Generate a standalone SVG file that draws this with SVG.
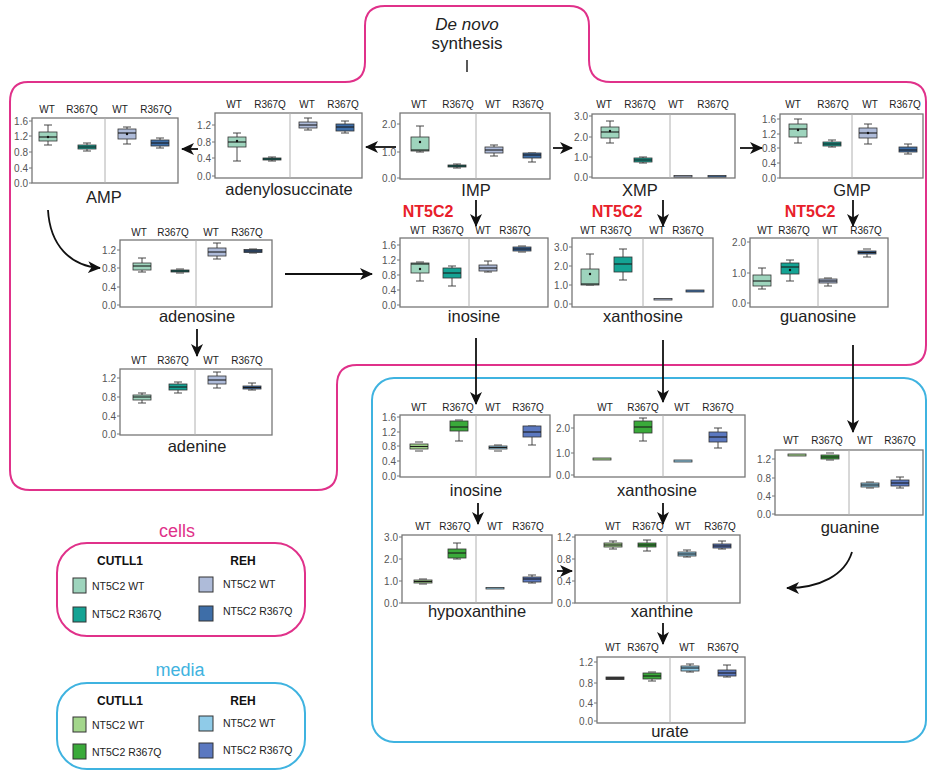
<svg xmlns="http://www.w3.org/2000/svg" width="929" height="777" viewBox="0 0 929 777">
<style>
text{font-family:"Liberation Sans",Arial,sans-serif}
.ax{fill:#fff;stroke:#777;stroke-width:1.3}
.sep{stroke:#b0b0b0;stroke-width:1}
.tm{stroke:#777;stroke-width:1;fill:none}
.tk{font-size:10px;fill:#555;text-anchor:end}
.gl{font-size:10px;fill:#222;text-anchor:middle}
.tt{font-size:16.5px;fill:#222;text-anchor:middle}
.w{stroke:#333;stroke-width:0.9;fill:none}
.bx rect{stroke:#333;stroke-width:0.8}
.md{stroke:#1a1a1a;stroke-width:1.1;fill:none}
.mn{fill:#111}
.cW{fill:#9ed4bd}.cR{fill:#14a394}.rW{fill:#aebbd9}.rR{fill:#3e6ea8}
.mcW{fill:#a3d68c}.mcR{fill:#3aaa3a}.mrW{fill:#8fcbe8}.mrR{fill:#5b78c0}
.ar{stroke:#111;stroke-width:1.8;fill:none;marker-end:url(#ah)}
.nt{font-size:16px;font-weight:bold;fill:#e8202a;text-anchor:middle}
.lg{font-size:10.5px;fill:#222}
.lh{font-size:12px;font-weight:bold;fill:#111;text-anchor:middle}
.sw{stroke:#333;stroke-width:1}
</style>
<defs>
<marker id="ah" markerUnits="userSpaceOnUse" markerWidth="14" markerHeight="12" refX="12" refY="6" orient="auto">
<path d="M0,0 L13,6 L0,12 L3.5,6 z" fill="#111"/>
</marker>
</defs>

<!-- compartments -->
<g id="cells-compartment">
<path d="M28,82 H345 Q365,82 365,62 V26 Q365,6 385,6 H569 Q589,6 589,26 V60 Q589,82 611,82 H906 Q926,82 926,102 V345 Q926,365 906,365 H357 Q337,365 337,385 V470 Q337,490 317,490 H30 Q10,490 10,470 V102 Q10,82 28,82 Z" fill="none" stroke="#e0318a" stroke-width="2"/>
</g>
<g id="media-compartment">
<rect x="372" y="378" width="554" height="364" rx="22" fill="none" stroke="#3fb3e0" stroke-width="2"/>
</g>

<g id="denovo">
<text x="467" y="30" font-size="17" font-style="italic" fill="#222" text-anchor="middle">De novo</text>
<text x="467" y="49" font-size="17" fill="#222" text-anchor="middle">synthesis</text>
<line x1="467" y1="60" x2="467" y2="72" stroke="#222" stroke-width="1.5"/>
</g>

<!-- AMP -->
<g id="amp">
<rect class="ax" x="32" y="118" width="146" height="65"/>
<line class="sep" x1="105" y1="118" x2="105" y2="183"/>
<path class="tm" d="M29,121h3M29,136h3M29,152h3M29,168h3M29,183h3"/>
<text class="tk" x="28" y="124.5">1.6</text><text class="tk" x="28" y="139.5">1.2</text><text class="tk" x="28" y="155.5">0.8</text><text class="tk" x="28" y="171.5">0.4</text><text class="tk" x="28" y="186.5">0.0</text>
<text class="gl" x="47" y="113">WT</text><text class="gl" x="82" y="113">R367Q</text><text class="gl" x="120" y="113">WT</text><text class="gl" x="156" y="113">R367Q</text>
<g class="bx">
<path class="w" d="M44,125h8M48,125V132M48,141V145M44,145h8"/><rect class="cW" x="39" y="132" width="18" height="9"/><path class="md" d="M39,137h18"/><circle class="mn" cx="48" cy="137" r="1.2"/>
<path class="w" d="M83,143h8M87,143V145M87,149V151M83,151h8"/><rect class="cR" x="78" y="145" width="18" height="4"/><path class="md" d="M78,147h18"/>
<path class="w" d="M123,127h8M127,127V129M127,139V144M123,144h8"/><rect class="rW" x="118" y="129" width="18" height="10"/><path class="md" d="M118,133h18"/><circle class="mn" cx="127" cy="134" r="1.2"/>
<path class="w" d="M156,138h8M160,138V140M160,146V148M156,148h8"/><rect class="rR" x="151" y="140" width="18" height="6"/><path class="md" d="M151,143h18"/>
</g>
<text class="tt" x="104" y="203">AMP</text>
</g>

<!-- adenylosuccinate -->
<g id="adenylosuccinate">
<rect class="ax" x="215" y="113" width="147" height="65"/>
<line class="sep" x1="290" y1="113" x2="290" y2="178"/>
<path class="tm" d="M212,125h3M212,142h3M212,158h3M212,176h3"/>
<text class="tk" x="211" y="128.5">1.2</text><text class="tk" x="211" y="145.5">0.8</text><text class="tk" x="211" y="161.5">0.4</text><text class="tk" x="211" y="179.5">0.0</text>
<text class="gl" x="234" y="108">WT</text><text class="gl" x="270" y="108">R367Q</text><text class="gl" x="307" y="108">WT</text><text class="gl" x="343" y="108">R367Q</text>
<g class="bx">
<path class="w" d="M233,133h8M237,133V137M237,147V161M233,161h8"/><rect class="cW" x="228" y="137" width="18" height="10"/><path class="md" d="M228,142h18"/><circle class="mn" cx="237" cy="141" r="1.2"/>
<path class="w" d="M268,157h8M272,157V158M272,160V161M268,161h8"/><rect class="cR" x="263" y="158" width="18" height="2"/><path class="md" d="M263,159h18"/>
<path class="w" d="M304,118h8M308,118V122M308,128V130M304,130h8"/><rect class="rW" x="299" y="122" width="18" height="6"/><path class="md" d="M299,125h18"/>
<path class="w" d="M341,121h8M345,121V124M345,131V133M341,133h8"/><rect class="rR" x="336" y="124" width="18" height="7"/><path class="md" d="M336,127h18"/>
</g>
<text class="tt" x="289" y="195" font-size="18">adenylosuccinate</text>
</g>

<!-- IMP -->
<g id="imp">
<rect class="ax" x="400" y="113" width="150" height="66"/>
<line class="sep" x1="476" y1="113" x2="476" y2="179"/>
<path class="tm" d="M397,124h3M397,152h3M397,178h3"/>
<text class="tk" x="396" y="127.5">2.0</text><text class="tk" x="396" y="155.5">1.0</text><text class="tk" x="396" y="181.5">0.0</text>
<text class="gl" x="419" y="108">WT</text><text class="gl" x="458" y="108">R367Q</text><text class="gl" x="493" y="108">WT</text><text class="gl" x="528" y="108">R367Q</text>
<g class="bx">
<path class="w" d="M416,126h8M420,126V137M420,151V152M416,152h8"/><rect class="cW" x="411" y="137" width="18" height="14"/><path class="md" d="M411,150h18"/><circle class="mn" cx="420" cy="142" r="1.2"/>
<path class="w" d="M453,164h8M457,164V165M457,167V168M453,168h8"/><rect class="cR" x="448" y="165" width="18" height="2"/><path class="md" d="M448,166h18"/>
<path class="w" d="M490,145h8M494,145V147M494,153V156M490,156h8"/><rect class="rW" x="485" y="147" width="18" height="6"/><path class="md" d="M485,150h18"/>
<path class="w" d="M528,153h8M532,158V162M528,162h8"/><rect class="rR" x="523" y="153" width="18" height="5"/><path class="md" d="M523,155h18"/>
</g>
<text class="tt" x="476" y="196" font-size="17">IMP</text>
</g>

<!-- XMP -->
<g id="xmp">
<rect class="ax" x="592" y="114" width="143" height="64"/>
<line class="sep" x1="670" y1="114" x2="670" y2="178"/>
<path class="tm" d="M589,116h3M589,137h3M589,157h3M589,177h3"/>
<text class="tk" x="588" y="119.5">3.0</text><text class="tk" x="588" y="140.5">2.0</text><text class="tk" x="588" y="160.5">1.0</text><text class="tk" x="588" y="180.5">0.0</text>
<text class="gl" x="604" y="108">WT</text><text class="gl" x="640" y="108">R367Q</text><text class="gl" x="676" y="108">WT</text><text class="gl" x="713" y="108">R367Q</text>
<g class="bx">
<path class="w" d="M606,121h8M610,121V127M610,138V143M606,143h8"/><rect class="cW" x="601" y="127" width="18" height="11"/><path class="md" d="M601,132h18"/><circle class="mn" cx="610" cy="131" r="1.2"/>
<path class="w" d="M639,157h8M643,157V158M643,162V163M639,163h8"/><rect class="cR" x="634" y="158" width="18" height="4"/><path class="md" d="M634,160h18"/>
<rect class="rW" x="674" y="175.5" width="18" height="1.5"/>
<rect class="rR" x="708" y="175.5" width="18" height="1.5"/>
</g>
<text class="tt" x="640" y="196" font-size="17">XMP</text>
</g>

<!-- GMP -->
<g id="gmp">
<rect class="ax" x="780" y="114" width="143" height="64"/>
<line class="sep" x1="852" y1="114" x2="852" y2="178"/>
<path class="tm" d="M777,119h3M777,134h3M777,148h3M777,163h3M777,178h3"/>
<text class="tk" x="776" y="122.5">1.6</text><text class="tk" x="776" y="137.5">1.2</text><text class="tk" x="776" y="151.5">0.8</text><text class="tk" x="776" y="166.5">0.4</text><text class="tk" x="776" y="181.5">0.0</text>
<text class="gl" x="793" y="108">WT</text><text class="gl" x="833" y="108">R367Q</text><text class="gl" x="870" y="108">WT</text><text class="gl" x="905" y="108">R367Q</text>
<g class="bx">
<path class="w" d="M794,119h8M798,119V124M798,137V143M794,143h8"/><rect class="cW" x="789" y="124" width="18" height="13"/><path class="md" d="M789,129h18"/><circle class="mn" cx="798" cy="130" r="1.2"/>
<path class="w" d="M828,140h8M832,140V142M832,146V147M828,147h8"/><rect class="cR" x="823" y="142" width="18" height="4"/><path class="md" d="M823,144h18"/>
<path class="w" d="M864,124h8M868,124V128M868,138V144M864,144h8"/><rect class="rW" x="859" y="128" width="18" height="10"/><path class="md" d="M859,133h18"/><circle class="mn" cx="868" cy="133" r="1.2"/>
<path class="w" d="M904,144h8M908,144V147M908,152V154M904,154h8"/><rect class="rR" x="899" y="147" width="18" height="5"/><path class="md" d="M899,150h18"/>
</g>
<text class="tt" x="852" y="196" font-size="17">GMP</text>
</g>

<!-- adenosine -->
<g id="adenosine">
<rect class="ax" x="120" y="240" width="152" height="67"/>
<line class="sep" x1="196" y1="240" x2="196" y2="307"/>
<path class="tm" d="M117,250h3M117,268h3M117,287h3M117,305h3"/>
<text class="tk" x="116" y="253.5">1.2</text><text class="tk" x="116" y="271.5">0.8</text><text class="tk" x="116" y="290.5">0.4</text><text class="tk" x="116" y="308.5">0.0</text>
<text class="gl" x="139" y="236">WT</text><text class="gl" x="173" y="236">R367Q</text><text class="gl" x="211" y="236">WT</text><text class="gl" x="247" y="236">R367Q</text>
<g class="bx">
<path class="w" d="M138,258h8M142,258V263M142,270V272M138,272h8"/><rect class="cW" x="133" y="263" width="18" height="7"/><path class="md" d="M133,266h18"/>
<path class="w" d="M176,269h8M176,273h8"/><rect class="cR" x="171" y="270" width="18" height="2"/><path class="md" d="M171,271h18"/>
<path class="w" d="M213,243h8M217,243V248M217,256V259M213,259h8"/><rect class="rW" x="208" y="248" width="18" height="8"/><path class="md" d="M208,252h18"/>
<path class="w" d="M249,249h8M249,253h8"/><rect class="rR" x="244" y="249.5" width="18" height="3"/><path class="md" d="M244,251h18"/>
</g>
<text class="tt" x="197" y="322" font-size="17">adenosine</text>
</g>

<!-- adenine -->
<g id="adenine">
<rect class="ax" x="120" y="369" width="152" height="66"/>
<line class="sep" x1="195" y1="369" x2="195" y2="435"/>
<path class="tm" d="M117,378h3M117,397h3M117,416h3M117,434h3"/>
<text class="tk" x="116" y="381.5">1.2</text><text class="tk" x="116" y="400.5">0.8</text><text class="tk" x="116" y="419.5">0.4</text><text class="tk" x="116" y="437.5">0.0</text>
<text class="gl" x="139" y="364">WT</text><text class="gl" x="173" y="364">R367Q</text><text class="gl" x="211" y="364">WT</text><text class="gl" x="247" y="364">R367Q</text>
<g class="bx">
<path class="w" d="M138,393h8M142,393V395M142,400V403M138,403h8"/><rect class="cW" x="133" y="395" width="18" height="5"/><path class="md" d="M133,397h18"/>
<path class="w" d="M174,382h8M178,382V384M178,390V393M174,393h8"/><rect class="cR" x="169" y="384" width="18" height="6"/><path class="md" d="M169,387h18"/>
<path class="w" d="M213,372h8M217,372V376M217,384V388M213,388h8"/><rect class="rW" x="208" y="376" width="18" height="8"/><path class="md" d="M208,380h18"/>
<path class="w" d="M248,383h8M252,383V386M252,389V390M248,390h8"/><rect class="rR" x="243" y="386" width="18" height="3"/><path class="md" d="M243,387.5h18"/>
</g>
<text class="tt" x="197" y="452" font-size="17">adenine</text>
</g>

<!-- inosine (cells) -->
<g id="inosine-cells">
<rect class="ax" x="400" y="238" width="148" height="69"/>
<line class="sep" x1="469" y1="238" x2="469" y2="307"/>
<path class="tm" d="M397,245h3M397,260h3M397,275h3M397,290h3M397,305h3"/>
<text class="tk" x="396" y="248.5">1.6</text><text class="tk" x="396" y="263.5">1.2</text><text class="tk" x="396" y="278.5">0.8</text><text class="tk" x="396" y="293.5">0.4</text><text class="tk" x="396" y="308.5">0.0</text>
<text class="gl" x="418" y="234">WT</text><text class="gl" x="448" y="234">R367Q</text><text class="gl" x="483" y="234">WT</text><text class="gl" x="515" y="234">R367Q</text>
<g class="bx">
<path class="w" d="M416,262h8M420,273V281M416,281h8"/><rect class="cW" x="411" y="263" width="18" height="10"/><path class="md" d="M411,264h18"/><circle class="mn" cx="420" cy="269" r="1.2"/>
<path class="w" d="M448,266h8M452,266V268M452,278V286M448,286h8"/><rect class="cR" x="443" y="268" width="18" height="10"/><path class="md" d="M443,273h18"/>
<path class="w" d="M484,261h8M488,261V265M488,271V272M484,272h8"/><rect class="rW" x="479" y="265" width="18" height="6"/><path class="md" d="M479,268h18"/>
<path class="w" d="M518,246h8M518,252h8"/><rect class="rR" x="513" y="247" width="18" height="4"/><path class="md" d="M513,249h18"/>
</g>
<text class="tt" x="474" y="322">inosine</text>
</g>

<!-- xanthosine (cells) -->
<g id="xanthosine-cells">
<rect class="ax" x="572" y="238" width="141" height="69"/>
<line class="sep" x1="643" y1="238" x2="643" y2="307"/>
<path class="tm" d="M569,247h3M569,266h3M569,285h3M569,304h3"/>
<text class="tk" x="568" y="250.5">3.0</text><text class="tk" x="568" y="269.5">2.0</text><text class="tk" x="568" y="288.5">1.0</text><text class="tk" x="568" y="307.5">0.0</text>
<text class="gl" x="588" y="234">WT</text><text class="gl" x="616" y="234">R367Q</text><text class="gl" x="657" y="234">WT</text><text class="gl" x="688" y="234">R367Q</text>
<g class="bx">
<path class="w" d="M586,254h8M590,254V269M586,285h8"/><rect class="cW" x="581" y="269" width="18" height="16"/><path class="md" d="M581,284h18"/><circle class="mn" cx="590" cy="274" r="1.2"/>
<path class="w" d="M619,249h8M623,249V257M623,272V280M619,280h8"/><rect class="cR" x="614" y="257" width="18" height="15"/><path class="md" d="M614,264h18"/>
<rect class="rW" x="654" y="298.5" width="18" height="1.5"/>
<rect class="rR" x="686" y="290" width="18" height="2"/>
</g>
<text class="tt" x="643" y="322">xanthosine</text>
</g>

<!-- guanosine (cells) -->
<g id="guanosine">
<rect class="ax" x="750" y="238" width="138" height="69"/>
<line class="sep" x1="818" y1="238" x2="818" y2="307"/>
<path class="tm" d="M747,242h3M747,273h3M747,303h3"/>
<text class="tk" x="746" y="245.5">2.0</text><text class="tk" x="746" y="276.5">1.0</text><text class="tk" x="746" y="306.5">0.0</text>
<text class="gl" x="765" y="234">WT</text><text class="gl" x="794" y="234">R367Q</text><text class="gl" x="830" y="234">WT</text><text class="gl" x="866" y="234">R367Q</text>
<g class="bx">
<path class="w" d="M758,268h8M762,268V275M762,286V289M758,289h8"/><rect class="cW" x="753" y="275" width="18" height="11"/><path class="md" d="M753,281h18"/>
<path class="w" d="M786,260h8M790,260V263M790,274V281M786,281h8"/><rect class="cR" x="781" y="263" width="18" height="11"/><path class="md" d="M781,267h18"/><circle class="mn" cx="790" cy="270" r="1.2"/>
<path class="w" d="M824,278h8M828,283V286M824,286h8"/><rect class="rW" x="819" y="279" width="18" height="4"/><path class="md" d="M819,281h18"/>
<path class="w" d="M863,249h8M867,254V257M863,257h8"/><rect class="rR" x="858" y="251" width="18" height="3"/><path class="md" d="M858,252.5h18"/>
</g>
<text class="tt" x="818" y="322" font-size="18">guanosine</text>
</g>

<!-- inosine (media) -->
<g id="inosine-media">
<rect class="ax" x="400" y="415" width="150" height="62"/>
<line class="sep" x1="476" y1="415" x2="476" y2="477"/>
<path class="tm" d="M397,417h3M397,432h3M397,446h3M397,461h3M397,476h3"/>
<text class="tk" x="396" y="420.5">1.6</text><text class="tk" x="396" y="435.5">1.2</text><text class="tk" x="396" y="449.5">0.8</text><text class="tk" x="396" y="464.5">0.4</text><text class="tk" x="396" y="479.5">0.0</text>
<text class="gl" x="419" y="411">WT</text><text class="gl" x="458" y="411">R367Q</text><text class="gl" x="493" y="411">WT</text><text class="gl" x="528" y="411">R367Q</text>
<g class="bx">
<path class="w" d="M415,442h8M415,451h8"/><rect class="mcW" x="410" y="444" width="18" height="5"/><path class="md" d="M410,446.5h18"/>
<path class="w" d="M455,420h8M459,431V441M455,441h8"/><rect class="mcR" x="450" y="421" width="18" height="10"/><path class="md" d="M450,427h18"/>
<path class="w" d="M494,445h8M494,451h8"/><rect class="mrW" x="489" y="446" width="18" height="3"/><path class="md" d="M489,447.5h18"/>
<path class="w" d="M528,426h8M532,437V445M528,445h8"/><rect class="mrR" x="523" y="426" width="18" height="11"/><path class="md" d="M523,432h18"/>
</g>
<text class="tt" x="476" y="496">inosine</text>
</g>

<!-- xanthosine (media) -->
<g id="xanthosine-media">
<rect class="ax" x="574" y="415" width="171" height="62"/>
<line class="sep" x1="663" y1="415" x2="663" y2="477"/>
<path class="tm" d="M571,428h3M571,453h3M571,475h3"/>
<text class="tk" x="570" y="431.5">2.0</text><text class="tk" x="570" y="456.5">1.0</text><text class="tk" x="570" y="478.5">0.0</text>
<text class="gl" x="605" y="411">WT</text><text class="gl" x="643" y="411">R367Q</text><text class="gl" x="682" y="411">WT</text><text class="gl" x="718" y="411">R367Q</text>
<g class="bx">
<rect class="mcW" x="593" y="458" width="18" height="2"/>
<path class="w" d="M639,418h8M643,418V421M643,433V441M639,441h8"/><rect class="mcR" x="634" y="421" width="18" height="12"/><path class="md" d="M634,427h18"/>
<rect class="mrW" x="674" y="460" width="18" height="2"/>
<path class="w" d="M714,428h8M718,428V432M718,442V448M714,448h8"/><rect class="mrR" x="709" y="432" width="18" height="10"/><path class="md" d="M709,437h18"/>
</g>
<text class="tt" x="657" y="496">xanthosine</text>
</g>

<!-- guanine -->
<g id="guanine">
<rect class="ax" x="775" y="450" width="148" height="65"/>
<line class="sep" x1="849" y1="450" x2="849" y2="515"/>
<path class="tm" d="M772,459h3M772,478h3M772,496h3M772,514h3"/>
<text class="tk" x="771" y="462.5">1.2</text><text class="tk" x="771" y="481.5">0.8</text><text class="tk" x="771" y="499.5">0.4</text><text class="tk" x="771" y="517.5">0.0</text>
<text class="gl" x="791" y="444">WT</text><text class="gl" x="827" y="444">R367Q</text><text class="gl" x="865" y="444">WT</text><text class="gl" x="900" y="444">R367Q</text>
<g class="bx">
<rect class="mcW" x="788" y="454" width="18" height="2"/>
<path class="w" d="M826,453h8M826,460h8"/><rect class="mcR" x="821" y="455" width="18" height="4"/><path class="md" d="M821,457h18"/>
<path class="w" d="M866,482h8M866,488h8"/><rect class="mrW" x="861" y="483" width="18" height="4"/><path class="md" d="M861,485h18"/>
<path class="w" d="M896,477h8M900,477V480M900,486V488M896,488h8"/><rect class="mrR" x="891" y="480" width="18" height="6"/><path class="md" d="M891,483h18"/>
</g>
<text class="tt" x="850" y="533" font-size="17">guanine</text>
</g>

<!-- hypoxanthine -->
<g id="hypoxanthine">
<rect class="ax" x="402" y="535" width="150" height="68"/>
<line class="sep" x1="476" y1="535" x2="476" y2="603"/>
<path class="tm" d="M399,537h3M399,559h3M399,581h3M399,603h3"/>
<text class="tk" x="398" y="540.5">3.0</text><text class="tk" x="398" y="562.5">2.0</text><text class="tk" x="398" y="584.5">1.0</text><text class="tk" x="398" y="606.5">0.0</text>
<text class="gl" x="423" y="530">WT</text><text class="gl" x="455" y="530">R367Q</text><text class="gl" x="495" y="530">WT</text><text class="gl" x="528" y="530">R367Q</text>
<g class="bx">
<path class="w" d="M419,579h8M419,584h8"/><rect class="mcW" x="414" y="580" width="18" height="3"/><path class="md" d="M414,581.5h18"/>
<path class="w" d="M453,543h8M457,543V549M457,558V559M453,559h8"/><rect class="mcR" x="448" y="549" width="18" height="9"/><path class="md" d="M448,553h18"/>
<rect class="mrW" x="486" y="587.5" width="18" height="1.5"/>
<path class="w" d="M528,575h8M532,575V577M532,582V583M528,583h8"/><rect class="mrR" x="523" y="577" width="18" height="5"/><path class="md" d="M523,579h18"/>
</g>
<text class="tt" x="477" y="617">hypoxanthine</text>
</g>

<!-- xanthine -->
<g id="xanthine">
<rect class="ax" x="575" y="535" width="165" height="68"/>
<line class="sep" x1="667" y1="535" x2="667" y2="603"/>
<path class="tm" d="M572,537h3M572,559h3M572,581h3M572,603h3"/>
<text class="tk" x="571" y="540.5">1.2</text><text class="tk" x="571" y="562.5">0.8</text><text class="tk" x="571" y="584.5">0.4</text><text class="tk" x="571" y="606.5">0.0</text>
<text class="gl" x="613" y="530">WT</text><text class="gl" x="648" y="530">R367Q</text><text class="gl" x="683" y="530">WT</text><text class="gl" x="720" y="530">R367Q</text>
<g class="bx">
<path class="w" d="M609,541h8M613,541V543M613,547V549M609,549h8"/><rect class="mcW" x="604" y="543" width="18" height="4"/><path class="md" d="M604,545h18"/>
<path class="w" d="M643,540h8M647,540V543M647,547V551M643,551h8"/><rect class="mcR" x="638" y="543" width="18" height="4"/><path class="md" d="M638,545h18"/>
<path class="w" d="M683,550h8M687,550V552M687,556V557M683,557h8"/><rect class="mrW" x="678" y="552" width="18" height="4"/><path class="md" d="M678,554h18"/>
<path class="w" d="M718,541h8M722,541V544M722,548V549M718,549h8"/><rect class="mrR" x="713" y="544" width="18" height="4"/><path class="md" d="M713,546h18"/>
</g>
<text class="tt" x="662" y="617">xanthine</text>
</g>

<!-- urate -->
<g id="urate">
<rect class="ax" x="597" y="657" width="148" height="66"/>
<line class="sep" x1="670" y1="657" x2="670" y2="723"/>
<path class="tm" d="M594,662h3M594,683h3M594,703h3M594,721h3"/>
<text class="tk" x="593" y="665.5">1.2</text><text class="tk" x="593" y="686.5">0.8</text><text class="tk" x="593" y="706.5">0.4</text><text class="tk" x="593" y="724.5">0.0</text>
<text class="gl" x="613" y="651">WT</text><text class="gl" x="643" y="651">R367Q</text><text class="gl" x="687" y="651">WT</text><text class="gl" x="723" y="651">R367Q</text>
<g class="bx">
<rect x="606" y="677" width="18" height="2.5" fill="#333"/>
<path class="w" d="M648,672h8M652,679V681M648,681h8"/><rect class="mcR" x="643" y="673" width="18" height="6"/><path class="md" d="M643,676h18"/>
<path class="w" d="M686,664h8M690,664V666M690,671V672M686,672h8"/><rect class="mrW" x="681" y="666" width="18" height="5"/><path class="md" d="M681,668h18"/>
<path class="w" d="M723,665h8M727,665V670M727,676V677M723,677h8"/><rect class="mrR" x="718" y="670" width="18" height="6"/><path class="md" d="M718,673h18"/>
</g>
<text class="tt" x="670" y="737">urate</text>
</g>

<!-- enzyme labels -->
<g id="nt5c2-labels">
<text class="nt" x="428" y="217">NT5C2</text>
<text class="nt" x="617" y="217">NT5C2</text>
<text class="nt" x="810" y="217">NT5C2</text>
</g>

<!-- connectors -->
<g id="connectors">
<path class="ar" d="M396,147H366"/>
<path class="ar" d="M198,149H182"/>
<path class="ar" d="M553,148H572"/>
<path class="ar" d="M740,148H762"/>
<path class="ar" d="M476,200V226"/>
<path class="ar" d="M663,200V226"/>
<path class="ar" d="M853,200V226"/>
<path class="ar" d="M48,210C50,245 70,266 100,268"/>
<path class="ar" d="M285,274H372"/>
<path class="ar" d="M197,329V356"/>
<path class="ar" d="M476,338V404"/>
<path class="ar" d="M663,340V402"/>
<path class="ar" d="M853,345V432"/>
<path class="ar" d="M478,503V524"/>
<path class="ar" d="M663,503V524"/>
<path class="ar" d="M557,571H572"/>
<path class="ar" d="M663,623V644"/>
<path class="ar" d="M852,552C845,575 820,588 787,588"/>
</g>

<!-- legends -->
<g id="legend-cells">
<text x="177" y="537" font-size="18" fill="#e0318a" text-anchor="middle">cells</text>
<rect x="57" y="543" width="248" height="93" rx="30" fill="none" stroke="#e0318a" stroke-width="2"/>
<text class="lh" x="120" y="565">CUTLL1</text>
<text class="lh" x="243" y="565">REH</text>
<rect class="sw cW" x="73" y="578" width="13" height="15"/><text class="lg" x="92" y="590">NT5C2 WT</text>
<rect class="sw cR" x="73" y="607" width="13" height="15"/><text class="lg" x="92" y="618">NT5C2 R367Q</text>
<rect class="sw rW" x="199" y="577" width="14" height="15"/><text class="lg" x="223" y="588">NT5C2 WT</text>
<rect class="sw rR" x="199" y="606" width="14" height="15"/><text class="lg" x="223" y="615">NT5C2 R367Q</text>
</g>
<g id="legend-media">
<text x="180" y="676" font-size="18" fill="#3fb3e0" text-anchor="middle">media</text>
<rect x="57" y="683" width="248" height="86" rx="30" fill="none" stroke="#3fb3e0" stroke-width="2"/>
<text class="lh" x="120" y="705">CUTLL1</text>
<text class="lh" x="243" y="705">REH</text>
<rect class="sw mcW" x="73" y="717" width="13" height="15"/><text class="lg" x="92" y="729">NT5C2 WT</text>
<rect class="sw mcR" x="73" y="744" width="13" height="15"/><text class="lg" x="92" y="756">NT5C2 R367Q</text>
<rect class="sw mrW" x="199" y="716" width="14" height="15"/><text class="lg" x="223" y="727">NT5C2 WT</text>
<rect class="sw mrR" x="199" y="743" width="14" height="15"/><text class="lg" x="223" y="754">NT5C2 R367Q</text>
</g>
</svg>
